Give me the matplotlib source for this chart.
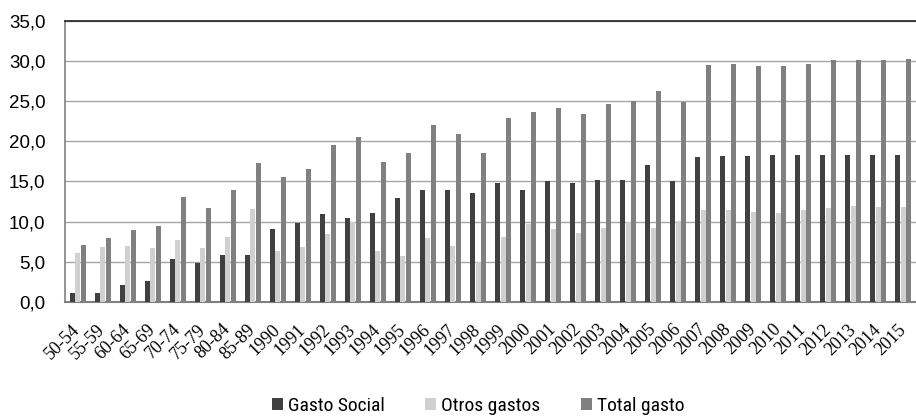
import numpy as np
import matplotlib
matplotlib.use("Agg")
import matplotlib.pyplot as plt
from matplotlib.ticker import FuncFormatter

plt.rcParams['font.family'] = ['Liberation Sans', 'DejaVu Sans']

periodos = ['50-54', '55-59', '60-64', '65-69', '70-74', '75-79', '80-84', '85-89'] + \
    [str(y) for y in range(1990, 2016)]

gasto_social = [1.1, 1.1, 2.1, 2.6, 5.35, 4.9, 5.8, 5.8, 9.05, 9.8,
                10.95, 10.5, 11.1, 12.95, 13.9, 13.9, 13.5, 14.8, 13.9, 15.1,
                14.8, 15.2, 15.2, 17.0, 15.0, 18.0, 18.15, 18.2, 18.3, 18.3,
                18.35, 18.3, 18.35, 18.35]
otros_gastos = [6.1, 6.8, 6.9, 6.7, 7.7, 6.7, 8.1, 11.6, 6.35, 6.85,
                8.5, 10.0, 6.35, 5.7, 8.0, 7.0, 5.0, 8.1, 9.7, 9.1,
                8.6, 9.25, 10.0, 9.25, 10.1, 11.5, 11.5, 11.2, 11.1, 11.4,
                11.7, 11.9, 11.85, 11.85]
total_gasto = [7.1, 7.9, 9.0, 9.4, 13.1, 11.7, 13.9, 17.3, 15.5, 16.6,
               19.5, 20.5, 17.4, 18.6, 22.0, 20.95, 18.5, 22.95, 23.7, 24.2,
               23.45, 24.6, 25.0, 26.3, 24.95, 29.45, 29.6, 29.4, 29.4, 29.6,
               30.1, 30.15, 30.15, 30.3]

series = [
    ('Gasto Social', gasto_social, '#404040'),
    ('Otros gastos', otros_gastos, '#d0d0d0'),
    ('Total gasto', total_gasto, '#808080'),
]

fig = plt.figure(figsize=(9.16, 4.17), dpi=100)
ax = fig.add_axes([0.071, 0.276, 0.929, 0.674])

x = np.arange(len(periodos))
w = 0.2
for i, (name, vals, col) in enumerate(series):
    ax.bar(x + (i - 1) * 0.22, vals, width=w, color=col, label=name, zorder=3)

ax.set_ylim(0, 35)
ax.set_xlim(-0.5, len(periodos) - 0.5)
ax.set_yticks(np.arange(0, 36, 5))
ax.yaxis.set_major_formatter(FuncFormatter(lambda v, p: f'{v:.1f}'.replace('.', ',')))
ax.grid(axis='y', color='#a6a6a6', linewidth=1.0, zorder=0)
ax.set_axisbelow(True)

ax.set_xticks(x)
ax.set_xticklabels(periodos, rotation=45, ha='right', va='center', rotation_mode='anchor',
                   family=['Liberation Serif', 'DejaVu Serif'], fontsize=13)
ax.tick_params(axis='x', length=0, pad=18)
ax.tick_params(axis='y', length=0, pad=14, labelsize=13.5)

ax.spines['right'].set_visible(False)
ax.spines['top'].set_color('#222222')
ax.spines['top'].set_linewidth(1.2)
ax.spines['left'].set_color('#808080')
ax.spines['left'].set_linewidth(1.2)
ax.spines['bottom'].set_color('#808080')
ax.spines['bottom'].set_linewidth(1.5)

# legend sits right at the bottom edge, starting near x=272px
fig.legend(loc='center left', bbox_to_anchor=(0.297, 0.026), ncol=3, frameon=False,
           prop={'family': ['Roboto Condensed', 'DejaVu Sans'], 'size': 14},
           handlelength=0.55, handleheight=0.55, handletextpad=0.25,
           columnspacing=2.1, borderpad=0, borderaxespad=0)

fig.savefig('out.png', dpi=100)
